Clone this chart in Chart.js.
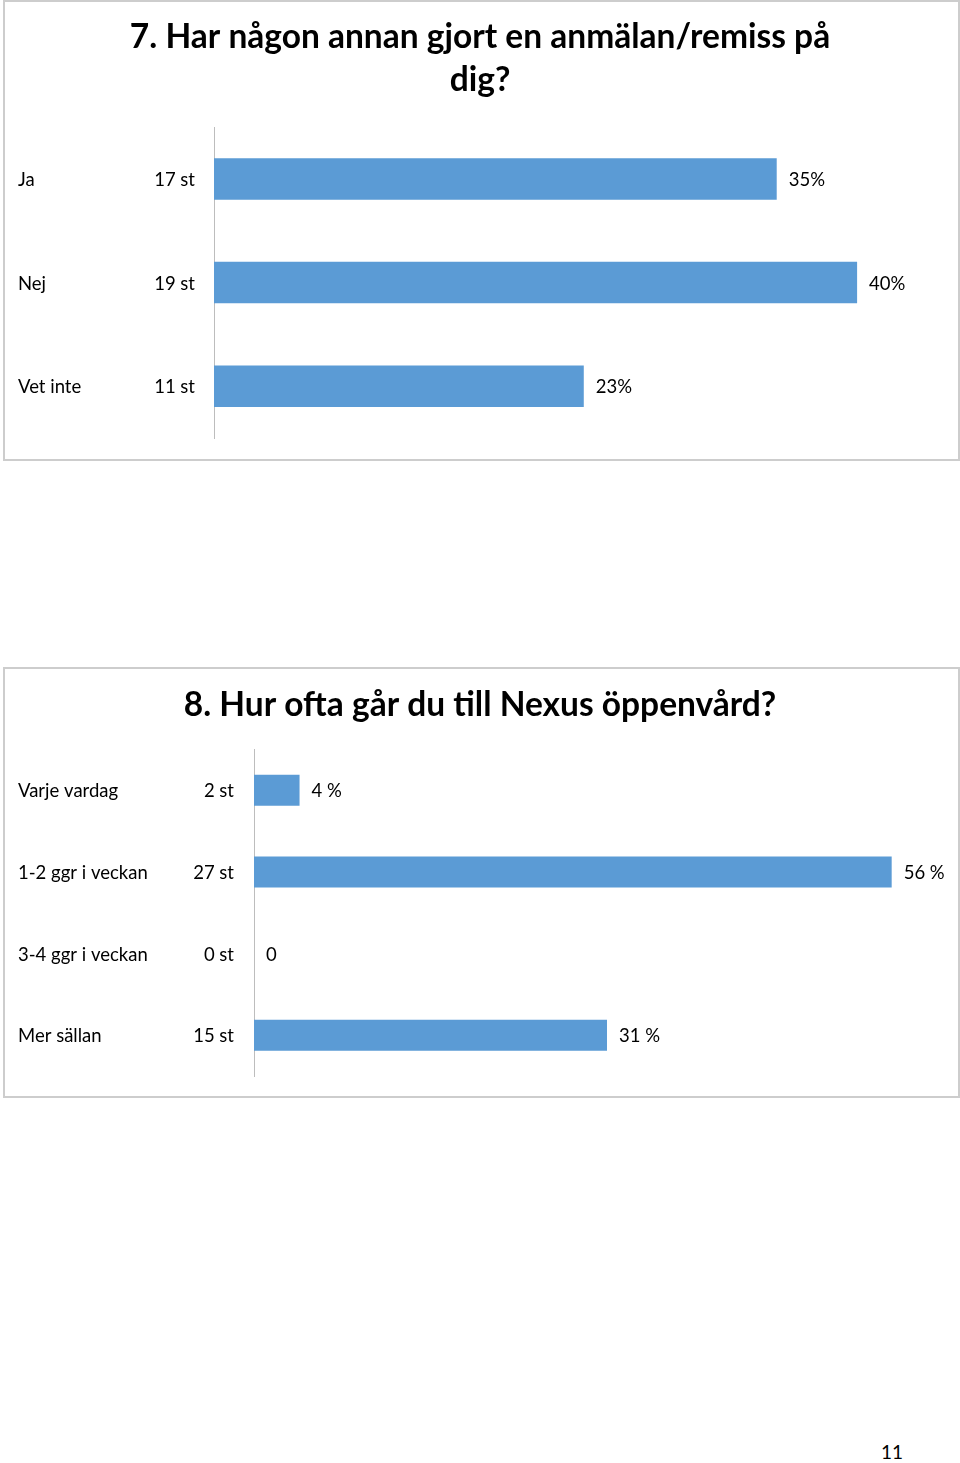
<!DOCTYPE html>
<html>
<head>
<meta charset="utf-8">
<script src="https://cdn.jsdelivr.net/npm/chart.js@4/dist/chart.umd.min.js"></script>
<style>
  body { margin: 0; background: #fff; width: 960px; height: 1463px; position: relative; overflow: hidden; font-family: Lato, sans-serif; }
  .ram { position: absolute; box-sizing: border-box; border: 2px solid #cdcdcd; }
  .yta { position: absolute; left: 0; width: 960px; }
  #sida { position: absolute; left: 881px; top: 1440px; font-size: 19px; color: #000; }
</style>
</head>
<body>
<div class="ram" style="left:3px; top:0px; width:957px; height:461px;"></div>
<div class="ram" style="left:3px; top:667px; width:957px; height:431px;"></div>
<div class="yta" style="top:0px; height:460px;"><canvas id="fraga7"></canvas></div>
<div class="yta" style="top:667px; height:431px;"><canvas id="fraga8"></canvas></div>
<div id="sida">11</div>

<script>
// Fråga 7
const fraga7Titel = ['7. Har någon annan gjort en anmälan/remiss på', 'dig?'];
const fraga7Svar = ['Ja', 'Nej', 'Vet inte'];
const fraga7Antal = ['17 st', '19 st', '11 st'];
const fraga7Procent = [35, 40, 23];
const fraga7Etikett = ['35%', '40%', '23%'];

// Fråga 8
const fraga8Titel = '8. Hur ofta går du till Nexus öppenvård?';
const fraga8Svar = ['Varje vardag', '1-2 ggr i veckan', '3-4 ggr i veckan', 'Mer sällan'];
const fraga8Antal = ['2 st', '27 st', '0 st', '15 st'];
const fraga8Procent = [4, 56, 0, 31];
const fraga8Etikett = ['4 %', '56 %', '0', '31 %'];

const stapelFarg = '#5b9bd5';
const typsnitt = 'Lato, "Open Sans", sans-serif';

// Skriver svar, antal och procent bredvid staplarna
const sidoText = {
  id: 'sidoText',
  afterDatasetsDraw(chart, args, opts) {
    const ctx = chart.ctx;
    const meta = chart.getDatasetMeta(0);
    ctx.save();
    ctx.font = '18.5px ' + typsnitt;
    ctx.fillStyle = '#000';
    ctx.textBaseline = 'middle';
    meta.data.forEach((bar, i) => {
      const y = bar.y + 1;
      ctx.textAlign = 'left';
      ctx.fillText(opts.svar[i], opts.svarX, y);
      ctx.textAlign = 'right';
      ctx.fillText(opts.antal[i], opts.antalX, y);
      ctx.textAlign = 'left';
      ctx.fillText(opts.etikett[i], bar.x + 12, y);
    });
    ctx.restore();
  }
};

function skapaDiagram(id, titel, svar, procent, antal, etikett, max, tjocklek, titelPadding, axelX, antalX) {
  const ctx = document.getElementById(id);
  return new Chart(ctx, {
    type: 'bar',
    data: {
      labels: svar,
      datasets: [{
        data: procent,
        backgroundColor: stapelFarg,
        categoryPercentage: 1,
        barPercentage: tjocklek
      }]
    },
    options: {
      indexAxis: 'y',
      responsive: true,
      maintainAspectRatio: false,
      animation: false,
      layout: { padding: { left: 0, right: 0, top: 0, bottom: 22 } },
      scales: {
        x: { display: false, min: 0, max: max },
        y: {
          display: true,
          grid: { display: false, drawTicks: false },
          ticks: { display: false },
          border: { display: true, color: '#bdbdbd', width: 1 },
          afterFit(scale) { scale.width = axelX; }
        }
      },
      plugins: {
        legend: { display: false },
        tooltip: { enabled: false },
        title: {
          display: true,
          text: titel,
          color: '#000',
          font: { family: typsnitt, size: 33.5, weight: 'bold', lineHeight: 1.3 },
          padding: titelPadding
        },
        sidoText: { svar: svar, antal: antal, etikett: etikett, svarX: 18, antalX: antalX }
      }
    },
    plugins: [sidoText]
  });
}

skapaDiagram('fraga7', fraga7Titel, fraga7Svar, fraga7Procent, fraga7Antal, fraga7Etikett,
  46.4, 0.4, { top: 15, bottom: 25 }, 214, 195);
skapaDiagram('fraga8', fraga8Titel, fraga8Svar, fraga8Procent, fraga8Antal, fraga8Etikett,
  62, 0.38, { top: 16, bottom: 23 }, 254, 234);
</script>
</body>
</html>
